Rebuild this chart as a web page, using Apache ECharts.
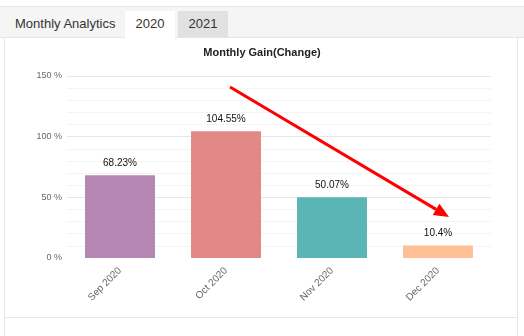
<!DOCTYPE html>
<html>
<head>
<meta charset="utf-8">
<script src="https://cdn.jsdelivr.net/npm/echarts@6/dist/echarts.min.js"></script>
<style>
  html, body { margin:0; padding:0; width:524px; height:336px; overflow:hidden; background:#fff; font-family: Arial, "Liberation Sans", sans-serif; }
  #topline { position:absolute; left:0; top:6px; width:524px; height:1px; background:#e6e6e6; }
  #tabbar { position:absolute; left:0; top:7px; width:524px; height:30px; background:#f5f5f5; border-bottom:1px solid #e6e6e6; }
  .tab { position:absolute; top:4px; height:26px; line-height:26px; font-size:13px; color:#333; text-align:center; }
  #t0 { left:15px; top:4px; }
  #t1 { left:125px; width:50px; background:#fff; height:27px; }
  #t2 { left:178px; width:50px; background:#e1e1e1; }
  #panel { position:absolute; left:4px; top:38px; width:512px; height:279px; border-left:1px solid #e8e8e8; border-right:1px solid #e8e8e8; border-bottom:1px solid #e8e8e8; }
  #sub { position:absolute; left:4px; top:318px; width:512px; height:20px; border-left:1px solid #e8e8e8; border-right:1px solid #e8e8e8; }
  #chart { position:absolute; left:0; top:0; width:524px; height:336px; }
</style>
</head>
<body>
<div id="topline"></div>
<div id="tabbar">
  <div class="tab" id="t0">Monthly Analytics</div>
  <div class="tab" id="t1">2020</div>
  <div class="tab" id="t2">2021</div>
</div>
<div id="panel"></div>
<div id="sub"></div>
<div id="chart"></div>
<script>
const categories = ['Sep 2020', 'Oct 2020', 'Nov 2020', 'Dec 2020'];
const gains = [68.23, 104.55, 50.07, 10.4];
const barColors = ['#b686b4', '#e38985', '#5bb5b4', '#ffc095'];
const yTicks = [0, 50, 100, 150];

const chart = echarts.init(document.getElementById('chart'), null, { renderer: 'canvas' });

// annotation arrow (pixel space)
const a0 = [230, 87], a1 = [449, 217];
const dx = a1[0] - a0[0], dy = a1[1] - a0[1];
const len = Math.hypot(dx, dy), ux = dx / len, uy = dy / len;
const head = 15, half = 6.5;
const bx = a1[0] - ux * head, by = a1[1] - uy * head;

chart.setOption({
  animation: false,
  title: {
    text: 'Monthly Gain(Change)',
    left: 'center', top: 42,
    textStyle: { fontSize: 11, fontWeight: 'bold', color: '#222', fontFamily: 'Arial' }
  },
  grid: { left: 67, right: 33, top: 76, bottom: 78 },
  xAxis: {
    type: 'category',
    data: categories,
    axisLine: { show: false },
    axisTick: { show: false },
    axisLabel: { rotate: 45, color: '#666', fontSize: 10, fontFamily: 'Arial', margin: 11 }
  },
  yAxis: {
    type: 'value',
    min: yTicks[0], max: yTicks[yTicks.length - 1], interval: 50,
    axisLine: { show: false },
    axisTick: { show: false },
    axisLabel: { formatter: '{value} %', color: '#666', fontSize: 9, fontFamily: 'Arial', margin: 5 },
    splitLine: { lineStyle: { color: ['rgba(0,0,0,0)', '#e6e6e6', '#e6e6e6', '#e6e6e6'], width: 1 } },
    minorTick: { show: false, splitNumber: 5 },
    minorSplitLine: { show: true, lineStyle: { color: '#f4f4f4', width: 1 } }
  },
  series: [{
    type: 'bar',
    data: gains.map((v, i) => ({ value: v, itemStyle: { color: barColors[i] } })),
    barCategoryGap: '34%',
    label: {
      show: true, position: 'top', distance: 7,
      formatter: p => p.value + '%',
      color: '#111', fontSize: 10, fontFamily: 'Arial'
    }
  }],
  graphic: [
    { type: 'line', z: 100, shape: { x1: a0[0], y1: a0[1], x2: bx, y2: by },
      style: { stroke: '#ff0000', lineWidth: 3 } },
    { type: 'polygon', z: 100, shape: { points: [
        [a1[0], a1[1]],
        [bx - uy * half, by + ux * half],
        [bx + uy * half, by - ux * half]
      ] }, style: { fill: '#ff0000' } }
  ]
});
</script>
</body>
</html>
